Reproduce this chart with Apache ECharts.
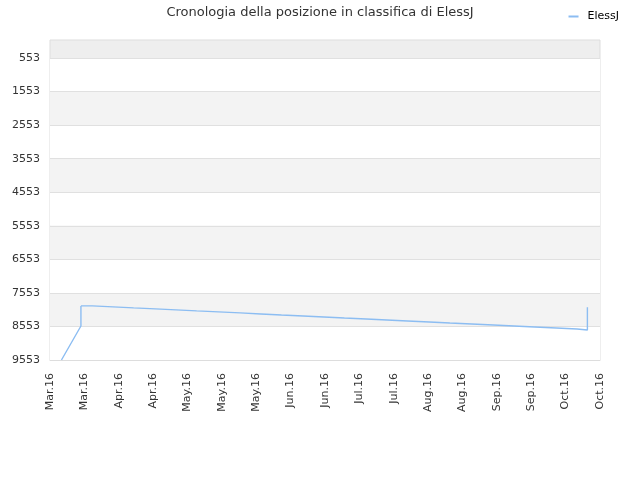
<!DOCTYPE html>
<html>
<head>
<meta charset="utf-8">
<script src="https://cdn.jsdelivr.net/npm/echarts@6/dist/echarts.min.js"></script>
<style>
  html, body { margin: 0; padding: 0; background: #fff; }
  #chart { width: 640px; height: 480px; }
</style>
</head>
<body>
<div id="chart"></div>
<script>
// x labels, one every 15 days
const xTickLabels = ['Mar.16', 'Mar.16', 'Apr.16', 'Apr.16', 'May.16', 'May.16', 'May.16', 'Jun.16', 'Jun.16',
  'Jul.16', 'Jul.16', 'Aug.16', 'Aug.16', 'Sep.16', 'Sep.16', 'Oct.16', 'Oct.16'];
const yTicks = [553, 1553, 2553, 3553, 4553, 5553, 6553, 7553, 8553, 9553];

// first climb into the ranking
const climbDays = [5, 13.5, 13.5];
const climbRanks = [9553, 8540, 7940];

// plateaus (rank held from that day until the next one)
const stepDays = [13.5, 18.5, 27.5, 36.5, 46, 55, 64, 73.5, 83, 92, 101, 110.5, 119.5, 128.5, 138,
  147, 156, 165.5, 174.5, 184, 193.5, 202.5, 211.5, 221, 230, 234.5];
const stepRanks = [7940, 7970, 8000, 8030, 8060, 8090, 8120, 8150, 8180, 8210, 8240, 8270, 8300, 8330, 8360,
  8390, 8420, 8450, 8480, 8510, 8540, 8570, 8600, 8630, 8660, 7980];

const lineColor = '#8cbdf2';
const font = 'DejaVu Sans';

const chart = echarts.init(document.getElementById('chart'));

chart.setOption({
  animation: false,
  title: {
    text: 'Cronologia della posizione in classifica di ElessJ',
    left: 'center',
    top: 1,
    textStyle: { fontFamily: font, fontSize: 13, fontWeight: 'normal', color: '#333' }
  },
  legend: {
    right: 16,
    top: 6,
    icon: 'rect',
    itemWidth: 10,
    itemHeight: 2,
    data: ['ElessJ'],
    textStyle: { fontFamily: font, fontSize: 11, color: '#000', padding: [0, 0, 0, 4] }
  },
  grid: {
    left: 50, right: 40, top: 40, bottom: 120,
    show: true,
    backgroundColor: '#eeeeee',
    borderColor: '#dddddd',
    borderWidth: 1
  },
  xAxis: {
    type: 'value',
    min: 0,
    max: 240,
    interval: 15,
    axisLine: { show: true, lineStyle: { color: '#dddddd' } },
    axisTick: { show: false },
    splitLine: { show: false },
    axisLabel: {
      rotate: 90,
      margin: 13,
      fontFamily: font,
      fontSize: 11,
      color: '#333',
      formatter: v => xTickLabels[Math.round(v / 15)]
    }
  },
  yAxis: {
    type: 'value',
    inverse: true,
    min: 16,
    max: 9553,
    axisLine: { show: false },
    axisTick: { show: false, customValues: yTicks },
    axisLabel: {
      customValues: yTicks,
      fontFamily: font,
      fontSize: 11,
      color: '#333',
      margin: 10,
      formatter: v => String(v)
    },
    splitLine: { show: true, lineStyle: { color: '#e0e0e0' } },
    splitArea: { show: true, areaStyle: { color: ['#ffffff', '#f3f3f3'] } }
  },
  series: [
    {
      name: 'ElessJ',
      type: 'line',
      showSymbol: false,
      data: climbDays.map((d, i) => [d, climbRanks[i]]),
      lineStyle: { width: 1.4, color: lineColor },
      itemStyle: { color: lineColor }
    },
    {
      name: 'ElessJ',
      type: 'line',
      step: 'end',
      showSymbol: false,
      data: stepDays.map((d, i) => [d, stepRanks[i]]),
      lineStyle: { width: 1.4, color: lineColor },
      itemStyle: { color: lineColor }
    }
  ]
});
</script>
</body>
</html>
